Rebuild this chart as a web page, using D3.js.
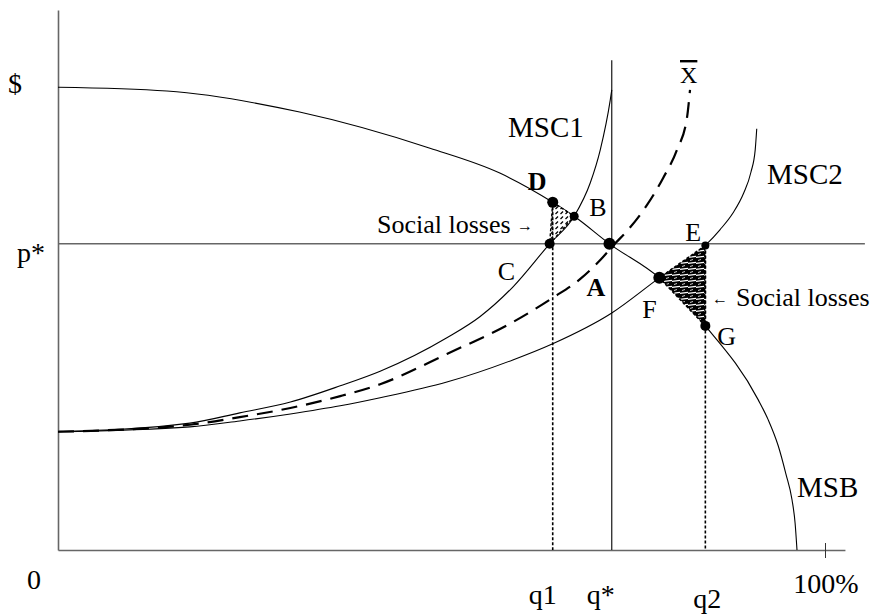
<!DOCTYPE html>
<html><head><meta charset="utf-8">
<script src="https://cdn.jsdelivr.net/npm/d3@7"></script>
<style>
body{margin:0;background:#fff}
text{font-family:"Liberation Serif","Times New Roman",Times,serif;fill:#000}
</style>
</head><body>
<svg id="c" width="875" height="615"></svg>
<script>
// ---- data (chart units: x = share 0..100%, y = $ 0..100) ----
const pStar = 56.7, q1 = 64.5, qStar = 72.2, q2 = 84.4;

const msbX  = [0, 14.2, 31.5, 48.5, 57.6, 64.5, 67.3, 71.9, 78.4, 84.4, 91.3, 92.6, 93.9, 94.9, 95.7, 96.1, 96.35];
const msbY  = [85.7, 85, 81.1, 74.4, 69.8, 64.4, 61.8, 56.7, 50.4, 41.5, 27.8, 24.1, 19.3, 14.1, 9.3, 5, 0];

const msc1X = [0, 17.2, 23.7, 30.3, 36.8, 42, 50.7, 55, 59.3, 64.1, 67.3, 69.4, 70.7, 72, 72.2];
const msc1Y = [21.9, 23.5, 25.4, 27.4, 30.4, 33.1, 39.3, 43.2, 48.7, 56.7, 61.8, 68, 74.1, 83.3, 85.2];

const msc2X = [0, 17.2, 23.7, 30.3, 36.8, 42, 50.7, 59.3, 64.5, 72.2, 78.4, 84.4, 86.3, 88, 89.4, 90.35, 90.9, 91.1];
const msc2Y = [21.9, 22.8, 23.9, 25.2, 26.7, 28.2, 31.1, 35.2, 38.2, 43.9, 50.4, 56.4, 59.3, 62.4, 66.1, 70, 74.1, 78];

const xbarX = [0, 17.2, 23.7, 30.3, 36.8, 42, 50.7, 59.3, 64.5, 68.1, 70.7, 72.6, 74.2, 76.8, 78.9, 80.7, 82, 82.4];
const xbarY = [21.9, 23.2, 24.6, 26.3, 28.5, 30.7, 36.3, 42.2, 46.7, 50.2, 53.7, 56.7, 59.1, 63.9, 68.9, 74.1, 80, 85.2];

const pointNames = ["D", "B", "C", "A", "F", "E", "G"];
const pointX     = [64.5, 67.3, 64.1, 71.9, 78.4, 84.4, 84.4];
const pointY     = [64.4, 61.8, 56.7, 56.7, 50.4, 56.4, 41.5];

const xTickLabels = ["0", "q1", "q*", "q2", "100%"];
const xTickValues = [0, q1, qStar, q2, 100];

// ---- scales ----
const x = d3.scaleLinear().domain([0, 100]).range([58, 825]);
const y = d3.scaleLinear().domain([0, 100]).range([550, 10]);
const zip = (a, b) => a.map((v, i) => [v, b[i]]);
const line = d3.line().x(d => x(d[0])).y(d => y(d[1])).curve(d3.curveMonotoneX);
const lin = d3.line().x(d => x(d[0])).y(d => y(d[1]));
const P = {};
pointNames.forEach((n, i) => P[n] = [pointX[i], pointY[i]]);

const svg = d3.select("#c");
const defs = svg.append("defs");

// light hatch
const pl = defs.append("pattern").attr("id", "hl").attr("patternUnits", "userSpaceOnUse")
  .attr("width", 5).attr("height", 5);
pl.append("rect").attr("width", 5).attr("height", 5).attr("fill", "#fff");
pl.append("path").attr("d", "M0.5,4 L3,1.5").attr("stroke", "#000").attr("stroke-width", 1.2);

// dark hatch
const pd = defs.append("pattern").attr("id", "hd").attr("patternUnits", "userSpaceOnUse")
  .attr("width", 8).attr("height", 6);
pd.append("rect").attr("width", 8).attr("height", 6).attr("fill", "#000");
pd.append("path").attr("d", "M0,5.3 L8,4.3").attr("stroke", "#fff").attr("stroke-width", 1.3);
pd.append("path").attr("d", "M2,2.5 L5,1.5").attr("stroke", "#fff").attr("stroke-width", 0.8);

// ---- axes ----
const yAxis = d3.axisLeft(y).tickValues([]).tickSizeOuter(0);
svg.append("g").attr("transform", `translate(${x(0)},0)`).call(yAxis)
  .select(".domain").attr("stroke", "#666").attr("stroke-width", 1.6);

const xAxisScale = d3.scaleLinear().domain([0, 102.6]).range([x(0), x(102.6)]);
const xg = svg.append("g").attr("transform", `translate(0,${y(0)})`)
  .call(d3.axisBottom(xAxisScale).tickValues([100]).tickSize(8).tickSizeOuter(0).tickFormat(""));
xg.select(".domain").attr("stroke", "#666").attr("stroke-width", 1.6);
xg.selectAll(".tick line").attr("y1", -7).attr("stroke", "#333").attr("stroke-width", 1);

// p* horizontal line
svg.append("path").attr("d", lin([[0, pStar], [105.2, pStar]]))
  .attr("stroke", "#666").attr("stroke-width", 1.4).attr("fill", "none");
// q* vertical
svg.append("path").attr("d", lin([[qStar, 0], [qStar, 90.7]]))
  .attr("stroke", "#000").attr("stroke-width", 1.1).attr("fill", "none");

// ---- curves ----
svg.append("path").attr("d", line(zip(msbX, msbY))).attr("fill", "none").attr("stroke", "#000").attr("stroke-width", 1.1);
svg.append("path").attr("d", line(zip(msc1X, msc1Y))).attr("fill", "none").attr("stroke", "#000").attr("stroke-width", 1.1);
svg.append("path").attr("d", line(zip(msc2X, msc2Y))).attr("fill", "none").attr("stroke", "#000").attr("stroke-width", 1.1);
svg.append("path").attr("d", line(zip(xbarX, xbarY))).attr("fill", "none").attr("stroke", "#000")
  .attr("stroke-width", 2.2).attr("stroke-dasharray", "16,9");

// ---- social loss triangles ----
svg.append("path").attr("d", lin([P.D, P.B, P.C]) + "Z").attr("fill", "url(#hl)")
  .attr("stroke", "#000").attr("stroke-width", 1.4).attr("stroke-dasharray", "3,2");
svg.append("path").attr("d", lin([P.E, P.F, P.G]) + "Z").attr("fill", "url(#hd)")
  .attr("stroke", "#000").attr("stroke-width", 1.6).attr("stroke-dasharray", "3,2");

// dotted drops
svg.append("path").attr("d", lin([[q1, P.D[1]], [q1, 0]])).attr("stroke", "#000")
  .attr("stroke-width", 1.6).attr("stroke-dasharray", "3,2").attr("fill", "none");
svg.append("path").attr("d", lin([[q2, P.E[1]], [q2, 0]])).attr("stroke", "#000")
  .attr("stroke-width", 1.6).attr("stroke-dasharray", "3,2").attr("fill", "none");

// ---- points ----
const radius = {D: 5.5, B: 4.5, C: 5, A: 6, F: 6, E: 4, G: 5};
svg.selectAll("circle.pt").data(pointNames).join("circle").attr("class", "pt")
  .attr("cx", n => x(P[n][0])).attr("cy", n => y(P[n][1])).attr("r", n => radius[n]).attr("fill", "#000");

// point labels (offset from their points)
const lab = {D: [-25, -12, true], B: [15, 0, false], C: [-52, 36, false], A: [-23, 52, true],
             F: [-17, 40, false], E: [-20, -4, false], G: [12, 19, false]};
pointNames.forEach(n => {
  const o = lab[n];
  svg.append("text").attr("x", x(P[n][0]) + o[0]).attr("y", y(P[n][1]) + o[1])
    .attr("font-size", 26).attr("font-weight", o[2] ? "bold" : "normal").text(n);
});

// curve labels
svg.append("text").attr("x", 508).attr("y", 137).attr("font-size", 29).text("MSC1");
svg.append("text").attr("x", 767).attr("y", 184).attr("font-size", 29).text("MSC2");
svg.append("text").attr("x", 797).attr("y", 497).attr("font-size", 29).text("MSB");
svg.append("text").attr("x", 680).attr("y", 83).attr("font-size", 24)
  .attr("text-decoration", "overline").text("X");

// social losses labels
const t1 = svg.append("text").attr("x", 377).attr("y", 233).attr("font-size", 26);
t1.append("tspan").text("Social losses ");
t1.append("tspan").attr("font-size", 16).attr("dy", -2).text("→");
const t2 = svg.append("text").attr("x", 712).attr("y", 306).attr("font-size", 26);
t2.append("tspan").attr("font-size", 16).attr("dy", -2).text("←");
t2.append("tspan").attr("dy", 2).attr("dx", 8).text("Social losses");

// axis labels
const tickDy = [39, 54, 54, 58, 43];
const tickDx = [-24, -10, -11, 2, 1];
svg.selectAll("text.xt").data(xTickLabels).join("text").attr("class", "xt")
  .attr("x", (d, i) => x(xTickValues[i]) + tickDx[i]).attr("y", (d, i) => y(0) + tickDy[i])
  .attr("text-anchor", "middle").attr("font-size", 28).text(d => d);
svg.append("text").attr("x", 8).attr("y", 93).attr("font-size", 28).text("$");
svg.append("text").attr("x", 17).attr("y", 262).attr("font-size", 28).text("p*");
</script>
</body></html>
